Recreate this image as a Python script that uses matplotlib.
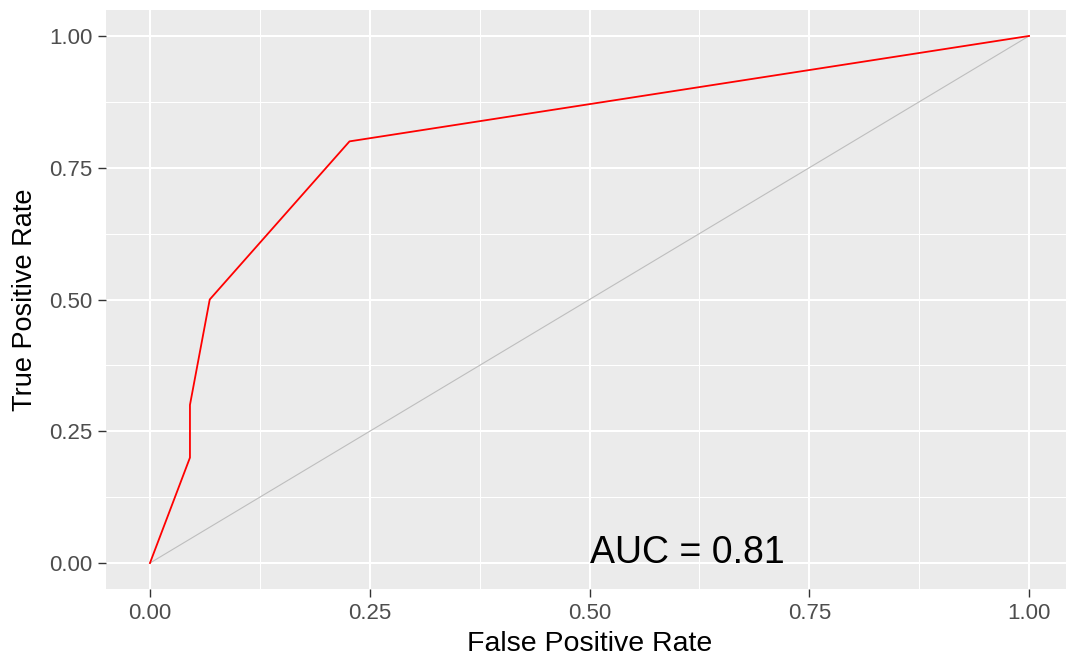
import numpy as np
import matplotlib
matplotlib.use('Agg')
import matplotlib.pyplot as plt

# ROC curve points
fpr = [0.0, 0.0455, 0.0455, 0.068, 0.227, 1.0]
tpr = [0.0, 0.2, 0.3, 0.5, 0.8, 1.0]
auc_label = 'AUC = 0.81'
ticks = [0.0, 0.25, 0.5, 0.75, 1.0]
tick_labels = ['0.00', '0.25', '0.50', '0.75', '1.00']
minor_ticks = [0.125, 0.375, 0.625, 0.875]

plt.rcParams['font.family'] = ['Liberation Sans', 'DejaVu Sans']

fig = plt.figure(figsize=(10.66, 6.64), dpi=100)
W, H = 1066, 664
# panel box in pixels (ggplot style, 5% expansion)
ax = fig.add_axes([106 / W, (H - 589.4) / H, 967 / W, 579.8 / H])
ax.set_facecolor('#EBEBEB')
for s in ax.spines.values():
    s.set_visible(False)

ax.set_xlim(-0.05, 1.05)
ax.set_ylim(-0.05, 1.05)
ax.set_xticks(ticks)
ax.set_xticklabels(tick_labels)
ax.set_yticks(ticks)
ax.set_yticklabels(tick_labels)
ax.set_xticks(minor_ticks, minor=True)
ax.set_yticks(minor_ticks, minor=True)

ax.grid(which='major', color='white', linewidth=1.5)
ax.grid(which='minor', color='white', linewidth=0.75)
ax.set_axisbelow(True)
ax.tick_params(which='major', length=5.5, width=1.0, color='#333333',
               labelsize=16, labelcolor='#4D4D4D', pad=4)
ax.tick_params(which='minor', length=0)

# diagonal reference and ROC curve
ax.plot([0, 1], [0, 1], color='#BEBEBE', linewidth=0.8, zorder=2)
ax.plot(fpr, tpr, color='#FF0000', linewidth=1.3, zorder=3)

ax.text(0.5, 0.0, auc_label, fontsize=27, color='black', ha='left', va='baseline')

ax.set_xlabel('False Positive Rate', fontsize=20.5, color='black', labelpad=5)
ax.set_ylabel('True Positive Rate', fontsize=19.5, color='black', labelpad=8)

fig.savefig('out.png', dpi=100)
